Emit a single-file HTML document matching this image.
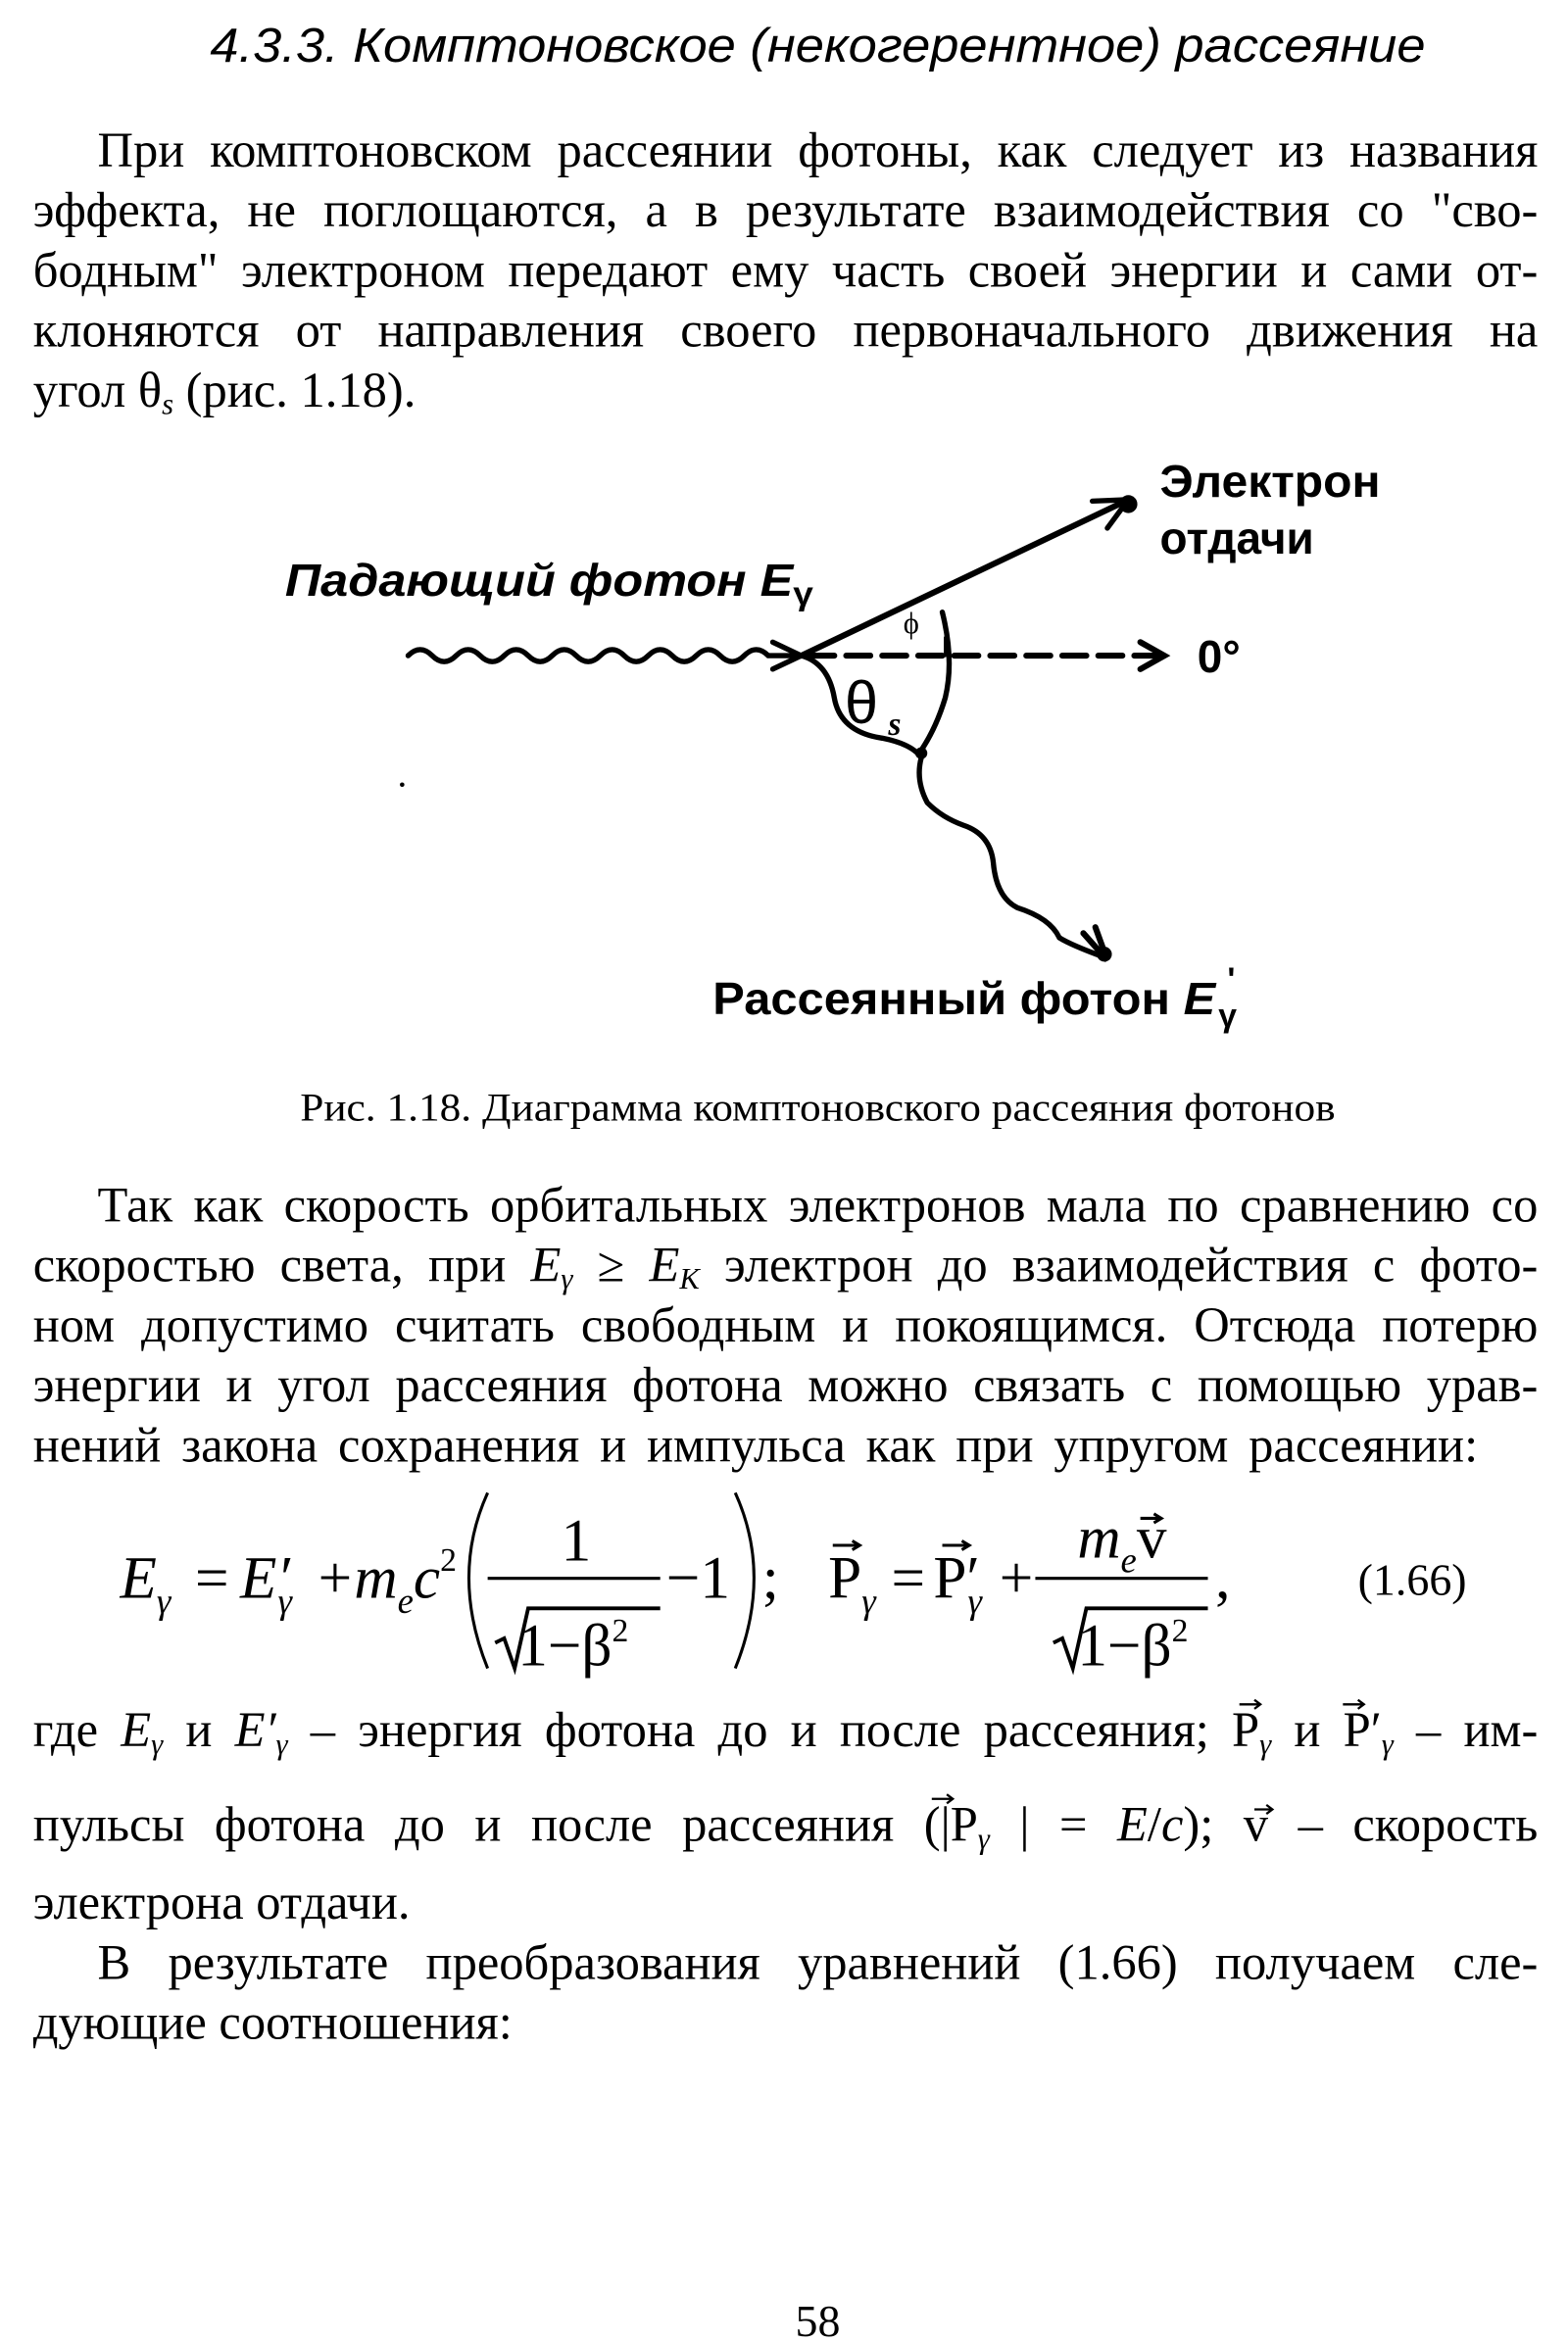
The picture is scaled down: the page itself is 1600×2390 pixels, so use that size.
<!DOCTYPE html>
<html><head><meta charset="utf-8"><style>
html,body{margin:0;padding:0;background:#fff;}
svg{display:block;}
.m{font-family:"Liberation Serif",serif;font-style:italic;fill:#000;}
.s{font-family:"Liberation Sans",sans-serif;fill:#000;}
.b{font-family:"Liberation Serif",serif;fill:#000;}
.l{font-family:"Liberation Serif",serif;font-size:33px;line-height:40px;height:40px;white-space:nowrap;color:#000;margin:0;}
.j{text-align:justify;text-align-last:justify;white-space:normal;}
.l i{font-style:italic;}
.l sub{font-size:20px;vertical-align:-5px;line-height:0;font-style:italic;}
</style></head><body>
<svg width="1600" height="2390" viewBox="0 0 1045 1561" xmlns="http://www.w3.org/2000/svg">
<rect width="1045" height="1561" fill="#fff"/>
<text class="s" x="545" y="41" font-size="32" font-style="italic" text-anchor="middle" textLength="810" lengthAdjust="spacingAndGlyphs">4.3.3. Комптоновское (некогерентное) рассеяние</text>

<foreignObject x="65" y="81" width="960" height="40"><div xmlns="http://www.w3.org/1999/xhtml" class="l j">При комптоновском рассеянии фотоны, как следует из названия</div></foreignObject>
<foreignObject x="22" y="121" width="1003" height="40"><div xmlns="http://www.w3.org/1999/xhtml" class="l j">эффекта, не поглощаются, а в результате взаимодействия со "сво-</div></foreignObject>
<foreignObject x="22" y="161" width="1003" height="40"><div xmlns="http://www.w3.org/1999/xhtml" class="l j">бодным" электроном передают ему часть своей энергии и сами от-</div></foreignObject>
<foreignObject x="22" y="201" width="1003" height="40"><div xmlns="http://www.w3.org/1999/xhtml" class="l j">клоняются от направления своего первоначального движения на</div></foreignObject>
<foreignObject x="22" y="241" width="1003" height="40"><div xmlns="http://www.w3.org/1999/xhtml" class="l">угол θ<sub>s</sub> (рис. 1.18).</div></foreignObject>

<!-- diagram -->
<g stroke="#000" fill="none" stroke-width="3.5" stroke-linecap="round">
<path d="M272,437 q8,-8 16,0 t16,0 t16,0 t16,0 t16,0 t16,0 t16,0 t16,0 t16,0 t16,0 t16,0 t16,0 t16,0 t16,0 t16,0 L532,437"/>
<path d="M515,428 L534,437 L515,446"/>
<line x1="534" y1="437" x2="748" y2="335" stroke-width="4"/>
<path d="M728,334 L752,333 L738,352"/>
<line x1="540" y1="437" x2="770" y2="437" stroke-dasharray="16,8" stroke-width="4"/>
<path d="M760,428 L776,437 L760,446" stroke-width="4"/>
<path d="M628,408 Q636,440 630,465 Q624,485 614,500"/>
<path d="M534,437 Q552,442 556,465 Q560,488 588,492 Q608,496 614,505"/>
<path d="M614,505 Q610,520 618,535 Q628,545 642,550 Q660,556 662,575 Q664,598 678,605 Q700,612 706,625 Q714,630 736,638"/>
<path d="M722,622 L738,640 L730,618" stroke-width="4"/>
<line x1="630" y1="425" x2="630" y2="437" stroke-width="2"/>
</g>
<circle cx="752" cy="336" r="6" fill="#000"/>
<circle cx="736" cy="636" r="5" fill="#000"/>
<circle cx="614" cy="502" r="4" fill="#000"/>
<text x="602" y="422" font-family="Liberation Serif,serif" font-size="20" fill="#000">ϕ</text>
<text x="563" y="482" font-family="Liberation Sans,sans-serif" font-size="40" fill="#000">θ</text>
<text x="592" y="490" class="m" font-size="22" font-weight="bold">s</text>
<text class="s" x="190" y="397" font-size="30" font-weight="bold" font-style="italic" textLength="352" lengthAdjust="spacingAndGlyphs">Падающий фотон E<tspan font-size="22" dy="6" font-style="normal">γ</tspan></text>
<text class="s" x="773" y="331" font-size="30" font-weight="bold" textLength="147" lengthAdjust="spacingAndGlyphs">Электрон</text>
<text class="s" x="773" y="369" font-size="30" font-weight="bold">отдачи</text>
<text class="s" x="798" y="448" font-size="30" font-weight="bold">0°</text>
<text class="s" x="475" y="676" font-size="30" font-weight="bold" textLength="335" lengthAdjust="spacingAndGlyphs">Рассеянный фотон <tspan font-style="italic">E</tspan></text>
<text class="s" x="812" y="684" font-size="22" font-weight="bold">γ</text>
<text class="s" x="818" y="660" font-size="22" font-weight="bold">'</text>
<circle cx="268" cy="523" r="1.5" fill="#000"/>

<text class="b" x="200" y="747" font-size="26" textLength="690" lengthAdjust="spacingAndGlyphs">Рис. 1.18. Диаграмма комптоновского рассеяния фотонов</text>

<foreignObject x="65" y="784" width="960" height="40"><div xmlns="http://www.w3.org/1999/xhtml" class="l j">Так как скорость орбитальных электронов мала по сравнению со</div></foreignObject>
<foreignObject x="22" y="824" width="1003" height="40"><div xmlns="http://www.w3.org/1999/xhtml" class="l j">скоростью света, при <i>E</i><sub>γ</sub> ≥ <i>E</i><sub>K</sub> электрон до взаимодействия с фото-</div></foreignObject>
<foreignObject x="22" y="864" width="1003" height="40"><div xmlns="http://www.w3.org/1999/xhtml" class="l j">ном допустимо считать свободным и покоящимся. Отсюда потерю</div></foreignObject>
<foreignObject x="22" y="904" width="1003" height="40"><div xmlns="http://www.w3.org/1999/xhtml" class="l j">энергии и угол рассеяния фотона можно связать с помощью урав-</div></foreignObject>
<foreignObject x="22" y="944" width="963" height="40"><div xmlns="http://www.w3.org/1999/xhtml" class="l j">нений закона сохранения и импульса как при упругом рассеянии:</div></foreignObject>

<!-- equation -->
<g class="m" font-size="40">
<text x="80" y="1065">E<tspan font-size="24" dy="10">γ</tspan></text>
<text x="130" y="1065" font-style="normal">=</text>
<text x="160" y="1065">E′<tspan font-size="24" dy="10" dx="-8">γ</tspan></text>
<text x="212" y="1065" font-style="normal">+</text>
<text x="236" y="1065">m<tspan font-size="24" dy="10">e</tspan><tspan dy="-10">c</tspan><tspan font-size="22" dy="-18" font-style="normal">2</tspan></text>
<text x="374" y="1040" font-style="normal">1</text>
<text x="444" y="1065" font-style="normal">−1</text>
<text x="508" y="1065" font-style="normal">;</text>
<text x="552" y="1065" font-style="normal">P<tspan font-size="24" dy="10" font-style="italic">γ</tspan></text>
<text x="594" y="1065" font-style="normal">=</text>
<text x="622" y="1065" font-style="normal">P′<tspan font-size="24" dy="10" dx="-8" font-style="italic">γ</tspan></text>
<text x="666" y="1065" font-style="normal">+</text>
<text x="718" y="1038">m<tspan font-size="24" dy="10">e</tspan><tspan dy="-10" font-style="normal">v</tspan></text>
<text x="810" y="1065" font-style="normal">,</text>
<text x="345" y="1110" font-style="normal">1−β<tspan font-size="22" dy="-16">2</tspan></text>
<text x="718" y="1110" font-style="normal">1−β<tspan font-size="22" dy="-16">2</tspan></text>
</g>
<g stroke="#000" fill="none" stroke-width="2">
<line x1="325" y1="1052" x2="440" y2="1052"/>
<line x1="690" y1="1052" x2="805" y2="1052"/>
<path d="M330,1095 L336,1092 L343,1112 L352,1072 L440,1072" stroke-width="2.5"/>
<path d="M702,1095 L708,1092 L715,1112 L724,1072 L805,1072" stroke-width="2.5"/>
<path d="M325,995 Q300,1050 325,1112"/>
<path d="M490,995 Q515,1050 490,1112"/>
<path d="M555,1030 h18 m-5,-3 l5,3 l-5,3"/>
<path d="M628,1030 h18 m-5,-3 l5,3 l-5,3"/>
<path d="M760,1012 h14 m-5,-3 l5,3 l-5,3"/>
</g>
<text class="b" x="905" y="1063" font-size="30">(1.66)</text>

<foreignObject x="22" y="1134" width="1003" height="40"><div xmlns="http://www.w3.org/1999/xhtml" class="l j">где <i>E</i><sub>γ</sub> и <i>E′</i><sub>γ</sub> – энергия фотона до и после рассеяния; P<sub>γ</sub> и P′<sub>γ</sub> – им-</div></foreignObject>
<foreignObject x="22" y="1197" width="1003" height="40"><div xmlns="http://www.w3.org/1999/xhtml" class="l j">пульсы фотона до и после рассеяния (|P<sub>γ</sub> | = <i>E</i>/<i>c</i>); v – скорость</div></foreignObject>
<foreignObject x="22" y="1249" width="1003" height="40"><div xmlns="http://www.w3.org/1999/xhtml" class="l">электрона отдачи.</div></foreignObject>
<foreignObject x="65" y="1289" width="960" height="40"><div xmlns="http://www.w3.org/1999/xhtml" class="l j">В результате преобразования уравнений (1.66) получаем сле-</div></foreignObject>
<foreignObject x="22" y="1329" width="1003" height="40"><div xmlns="http://www.w3.org/1999/xhtml" class="l">дующие соотношения:</div></foreignObject>
<g stroke="#000" fill="none" stroke-width="1.5">
<path d="M826,1136 h14 m-4,-3 l4,3 l-4,3"/>
<path d="M895,1136 h14 m-4,-3 l4,3 l-4,3"/>
<path d="M621,1199 h14 m-4,-3 l4,3 l-4,3"/>
<path d="M836,1206 h12 m-4,-3 l4,3 l-4,3"/>
</g>

<text class="b" x="545" y="1557" font-size="30" text-anchor="middle">58</text>
</svg>
</body></html>
